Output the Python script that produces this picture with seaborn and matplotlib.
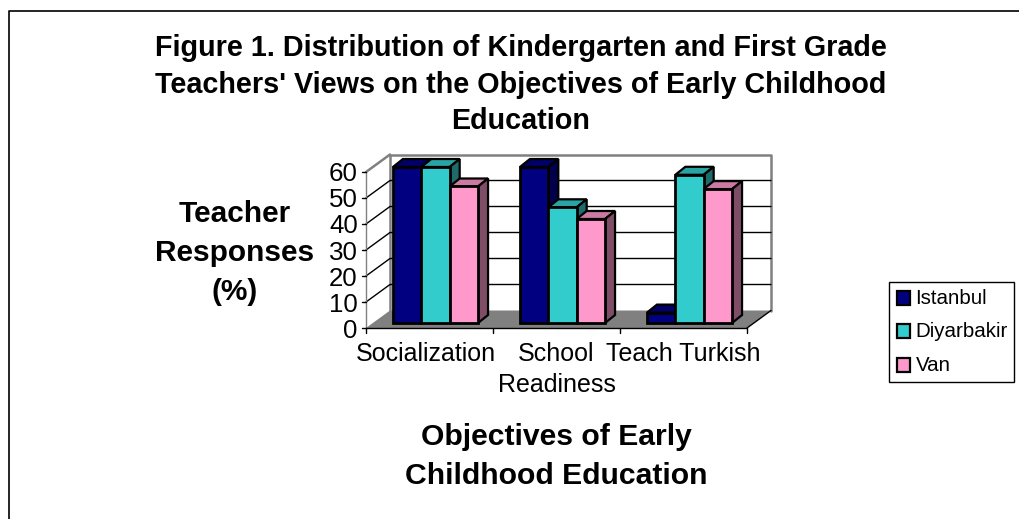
import matplotlib
matplotlib.use("Agg")
import matplotlib.pyplot as plt
import pandas as pd
import seaborn as sns
from matplotlib.colors import to_hex
from matplotlib.lines import Line2D
from matplotlib.patches import Polygon, Rectangle
from matplotlib.transforms import IdentityTransform, Affine2D

# Values
categories = ["Socialization", "School\nReadiness", "Teach Turkish"]
cities = ["Istanbul", "Diyarbakir", "Van"]
istanbul = [60, 60, 4]
diyarbakir = [60, 44.5, 57]
van = [52.5, 40, 51.5]
y_ticks = [0, 10, 20, 30, 40, 50, 60]

front_colors = ["#000080", "#33CCCC", "#FF99CC"]
top_colors = ["#000066", "#29A3A3", "#CC7AA3"]
side_colors = ["#00004D", "#1F6B6B", "#804D66"]

W, H = 1020, 519
DX, DY = 24, 17.5        # depth of the chart box, pixels
BAR_DX, BAR_DY = 6, 5    # bars stand a bit inside the floor
BAR_DEPTH_X, BAR_DEPTH_Y = 10, 8

sns.set_theme(style="white")
plt.rcParams["font.family"] = ["Liberation Sans", "DejaVu Sans"]

df = pd.DataFrame({
    "objective": categories * 3,
    "city": [c for c in cities for _ in categories],
    "value": istanbul + diyarbakir + van,
})

fig = plt.figure(figsize=(W / 100, H / 100), dpi=100)
ax = fig.add_axes([366 / W, 1 - 328 / H, 381 / W, 156 / H])

sns.barplot(data=df, x="objective", y="value", hue="city", hue_order=cities,
            palette=front_colors, width=0.67, gap=0, saturation=1,
            edgecolor="black", linewidth=2, legend=False, ax=ax)
ax.set_xlim(-0.5, 2.5)
ax.set_ylim(0, 60)
ax.set_xlabel("")
ax.set_ylabel("")
ax.patch.set_alpha(0)
for s in ax.spines.values():
    s.set_visible(False)

px = IdentityTransform()  # display pixels, origin bottom left


def add_px_line(xs, ys, color="black", lw=1.0, z=0.7):
    ax.add_line(Line2D(xs, ys, color=color, lw=lw, transform=px, zorder=z, clip_on=False))


x0, x1 = 366, 747
y0, y1 = H - 328, H - 172

# floor and walls
ax.add_patch(Polygon([(x0, y0), (x1, y0), (x1 + DX, y0 + DY), (x0 + DX, y0 + DY)],
                     closed=True, fc="#808080", ec="none", transform=px, zorder=0.5,
                     clip_on=False))
add_px_line([x0 + DX, x0 + DX, x1 + DX, x1 + DX], [y0 + DY, y1 + DY, y1 + DY, y0 + DY],
            color="#808080", lw=1.8, z=0.6)
add_px_line([x0, x0 + DX], [y1, y1 + DY], color="#808080", lw=1.8, z=0.6)
for t in y_ticks[1:-1]:
    yy = ax.transData.transform((0, t))[1]
    add_px_line([x0, x0 + DX, x1 + DX], [yy, yy + DY, yy + DY])
add_px_line([x1, x1 + DX], [y0, y0 + DY], z=0.7)

# axis lines and ticks
add_px_line([x0, x0], [y0, y1], color="#808080", z=0.8)
add_px_line([x0, x1], [y0, y0], z=0.8)
for t in y_ticks:
    yy = ax.transData.transform((0, t))[1]
    add_px_line([x0 - 4, x0], [yy, yy], z=0.8)
for i in range(4):
    xx = ax.transData.transform((i - 0.5, 0))[0]
    add_px_line([xx, xx], [y0, y0 - 5], z=0.8)

# turn the flat bars into boxes, drawn left to right so neighbours overlap correctly
bars = [p for p in ax.patches if isinstance(p, Rectangle) and p.get_height() > 0]
shift = Affine2D().translate(BAR_DX, BAR_DY)
bars = sorted(bars, key=lambda p: p.get_x())
for n, bar in enumerate(bars):
    box = bar.get_window_extent()
    color = front_colors.index(to_hex(bar.get_facecolor()).upper())
    bar.set_transform(ax.transData + shift)
    bar.set_clip_on(False)
    bar.set_zorder(2 + n * 0.1 + 0.05)
    l, r, b, t = box.x0 + BAR_DX, box.x1 + BAR_DX, box.y0 + BAR_DY, box.y1 + BAR_DY
    top = Polygon([(l, t), (r, t), (r + BAR_DEPTH_X, t + BAR_DEPTH_Y), (l + BAR_DEPTH_X, t + BAR_DEPTH_Y)],
                  closed=True, fc=top_colors[color], ec="black", lw=1.6, transform=px,
                  zorder=2 + n * 0.1, clip_on=False)
    side = Polygon([(r, b), (r + BAR_DEPTH_X, b + BAR_DEPTH_Y), (r + BAR_DEPTH_X, t + BAR_DEPTH_Y), (r, t)],
                   closed=True, fc=side_colors[color], ec="black", lw=1.6, transform=px,
                   zorder=2 + n * 0.1, clip_on=False)
    ax.add_patch(top)
    ax.add_patch(side)

ax.set_yticks(y_ticks)
ax.set_yticklabels([str(t) for t in y_ticks], fontsize=18.6)
ax.tick_params(axis="y", length=0, pad=6, labelcolor="black")
ax.tick_params(axis="x", length=0, pad=10, labelsize=18, labelcolor="black")
ax.set_xticks(range(3))
ax.set_xticklabels(categories, linespacing=1.35)
# the first label sits a little left of its slot in the original
first = ax.get_xticklabels()[0]
first.set_transform(first.get_transform() + Affine2D().translate(-4, 0))

# titles
for y, s in [(48, "Figure 1. Distribution of Kindergarten and First Grade"),
             (85, "Teachers' Views on the Objectives of Early Childhood"),
             (121, "Education")]:
    fig.text(521 / W, 1 - y / H, s, ha="center", va="center", fontsize=20.7,
             fontweight="bold", color="black")
for y, s in [(214, "Teacher"), (253, "Responses"), (292, "(%)")]:
    fig.text(235 / W, 1 - y / H, s, ha="center", va="center", fontsize=21.5,
             fontweight="bold", color="black")
for y, s in [(437, "Objectives of Early"), (476, "Childhood Education")]:
    fig.text(556 / W, 1 - y / H, s, ha="center", va="center", fontsize=21.7,
             fontweight="bold", color="black")

# legend
fig.add_artist(Rectangle((889 / W, 1 - 382 / H), 125 / W, 100 / H, transform=fig.transFigure,
                         fc="white", ec="black", lw=1))
for i, (name, y) in enumerate(zip(cities, [298, 331, 365])):
    fig.add_artist(Rectangle((897 / W, 1 - (y + 7) / H), 13 / W, 14 / H, transform=fig.transFigure,
                             fc=front_colors[i], ec="black", lw=1.6))
    fig.text(915.5 / W, 1 - (y + 0.5) / H, name, ha="left", va="center", fontsize=14.8, color="black")

# page frame
fig.add_artist(Line2D([9.5 / W, 9.5 / W, 1], [0, 1 - 11 / H, 1 - 11 / H], color="black", lw=1.2,
                      transform=fig.transFigure))

fig.savefig("out.png", dpi=100)
